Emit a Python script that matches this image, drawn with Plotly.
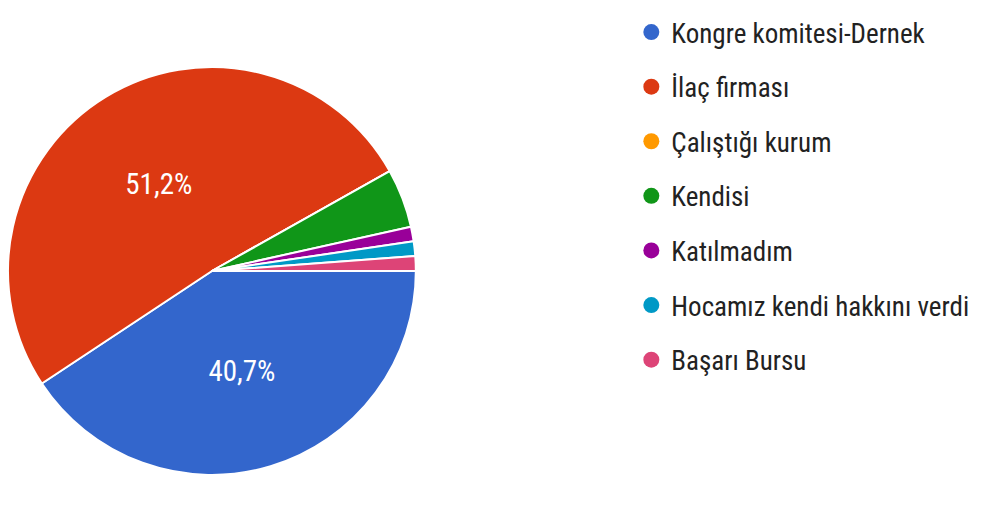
import plotly.graph_objects as go

labels = ["Kongre komitesi-Dernek", "İlaç firması", "Çalıştığı kurum", "Kendisi",
          "Katılmadım", "Hocamız kendi hakkını verdi", "Başarı Bursu"]
counts = [35, 44, 0, 4, 1, 1, 1]
slice_text = ["40,7%", "51,2%", "", "", "", "", ""]
colors = ["#3366cc", "#dc3912", "#ff9900", "#109618", "#990099", "#0099c6", "#dd4477"]

FONT = "Liberation Sans Narrow, Roboto Condensed, Arial Narrow, Roboto, sans-serif"

fig = go.Figure()
fig.add_trace(go.Pie(
    labels=labels, values=counts, sort=False, direction="clockwise", rotation=90,
    text=slice_text, texttemplate="%{text}", textposition="inside",
    insidetextorientation="horizontal",
    textfont=dict(family=FONT, size=29, color="white"),
    marker=dict(colors=colors, line=dict(color="white", width=2)),
    domain=dict(x=[0.0, 0.405], y=[0, 1]),
    showlegend=False, hoverinfo="label+percent",
))

for lab, col in zip(labels, colors):
    fig.add_trace(go.Scatter(
        x=[None], y=[None], mode="markers", name=lab, legendgroup=lab,
        marker=dict(symbol="circle", size=16, color=col),
    ))

fig.update_layout(
    width=1007, height=526,
    margin=dict(l=0, r=0, t=0, b=0),
    paper_bgcolor="white", plot_bgcolor="white",
    xaxis=dict(visible=False), yaxis=dict(visible=False),
    legend=dict(x=0.619, y=1.0, xanchor="left", yanchor="top",
                font=dict(family=FONT, size=27, color="#222222"),
                tracegroupgap=16.5, traceorder="grouped",
                bgcolor="rgba(0,0,0,0)"),
)

fig.write_html("out.html")
